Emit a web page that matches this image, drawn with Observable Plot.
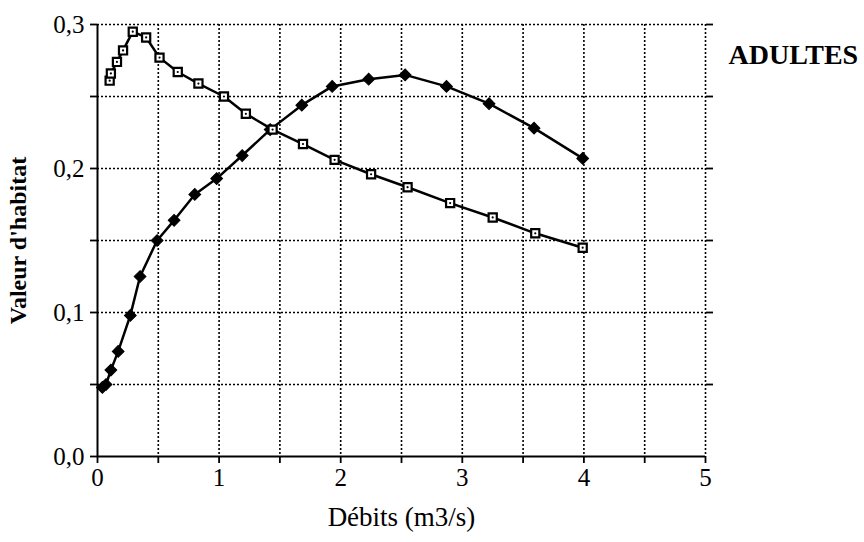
<!DOCTYPE html>
<html>
<head>
<meta charset="utf-8">
<script src="https://cdn.jsdelivr.net/npm/d3@7"></script>
<script src="https://cdn.jsdelivr.net/npm/@observablehq/plot@0.6"></script>
<style>
  html, body { margin: 0; padding: 0; background: white; }
</style>
</head>
<body>
<div id="chart"></div>
<script>
// Débits (m3/s) and habitat values, open-square series
const sqX = [0.10, 0.11, 0.16, 0.21, 0.29, 0.40, 0.51, 0.66, 0.83, 1.04, 1.22, 1.44, 1.69, 1.95, 2.25, 2.55, 2.90, 3.25, 3.60, 3.99];
const sqY = [0.261, 0.266, 0.274, 0.282, 0.295, 0.291, 0.277, 0.267, 0.259, 0.250, 0.238, 0.227, 0.217, 0.206, 0.196, 0.187, 0.176, 0.166, 0.155, 0.145];
// filled-diamond series
const dmX = [0.04, 0.07, 0.11, 0.17, 0.27, 0.35, 0.49, 0.63, 0.80, 0.98, 1.19, 1.42, 1.68, 1.93, 2.23, 2.53, 2.87, 3.22, 3.59, 3.99];
const dmY = [0.048, 0.050, 0.060, 0.073, 0.098, 0.125, 0.150, 0.164, 0.182, 0.193, 0.209, 0.227, 0.244, 0.257, 0.262, 0.265, 0.257, 0.245, 0.228, 0.207];

const xTicks = [0, 0.5, 1, 1.5, 2, 2.5, 3, 3.5, 4, 4.5, 5];
const yTicks = [0, 0.05, 0.1, 0.15, 0.2, 0.25, 0.3];
const xGrid = [0.5, 1, 1.5, 2, 2.5, 3, 3.5, 4, 4.5, 5];
const yGrid = [0.05, 0.1, 0.15, 0.2, 0.25, 0.3];
const title = "ADULTES";
const xLabel = "Débits (m3/s)";
const yLabel = "Valeur d'habitat";

const squares = sqX.map((x, i) => ({x, y: sqY[i]}));
const diamonds = dmX.map((x, i) => ({x, y: dmY[i]}));

const fmtY = d => (Math.round(d * 100) % 10 === 0) ? d3.format(".1f")(d).replace(".", ",") : "";
const fmtX = d => Number.isInteger(d) ? String(d) : "";

const chart = Plot.plot({
  width: 864,
  height: 542,
  marginLeft: 97,
  marginRight: 159,
  marginTop: 24,
  marginBottom: 86,
  style: {fontFamily: "'Liberation Serif', 'DejaVu Serif', serif", fontSize: "25px", color: "black", background: "white"},
  x: {domain: [0, 5]},
  y: {domain: [0, 0.3]},
  marks: [
    Plot.gridX(xGrid, {stroke: "black", strokeOpacity: 1, strokeWidth: 1.6, strokeDasharray: "2,2"}),
    Plot.gridY(yGrid, {stroke: "black", strokeOpacity: 1, strokeWidth: 1.6, strokeDasharray: "2,2"}),
    Plot.axisX({ticks: xTicks, tickFormat: fmtX, tickSize: 7, tickPadding: 5, strokeWidth: 1.8, label: null, fontSize: 25}),
    Plot.axisY({ticks: yTicks, tickFormat: fmtY, tickSize: 7, tickPadding: 6, strokeWidth: 1.8, label: null, fontSize: 25}),
    Plot.axisY({anchor: "right", ticks: yTicks.filter(d => d > 0), tickFormat: () => "", tickSize: 7, strokeWidth: 1.8, label: null}),
    Plot.ruleX([0], {stroke: "black", strokeWidth: 2}),
    Plot.ruleY([0], {stroke: "black", strokeWidth: 2}),
    Plot.line(squares, {x: "x", y: "y", stroke: "black", strokeWidth: 2.5}),
    Plot.line(diamonds, {x: "x", y: "y", stroke: "black", strokeWidth: 2.5}),
    Plot.dot(diamonds, {x: "x", y: "y", symbol: "square", rotate: 45, r: 4.7, fill: "black", stroke: "black", strokeWidth: 1}),
    Plot.dot(squares, {x: "x", y: "y", symbol: "square", r: 4.6, fill: "white", stroke: "black", strokeWidth: 2.2}),
    Plot.dot(squares, {x: "x", y: "y", r: 1.1, fill: "black", stroke: null}),
    Plot.text([yLabel], {frameAnchor: "left", dx: -79, rotate: -90, textAnchor: "middle", fontWeight: "bold", fontSize: 24, text: d => d}),
    Plot.text([xLabel], {frameAnchor: "bottom", dy: 69, textAnchor: "middle", fontSize: 27, text: d => d}),
    Plot.text([title], {frameAnchor: "top-right", dx: 23, dy: 20, textAnchor: "start", fontWeight: "bold", fontSize: 28, text: d => d})
  ]
});

document.getElementById("chart").appendChild(chart);
</script>
</body>
</html>
